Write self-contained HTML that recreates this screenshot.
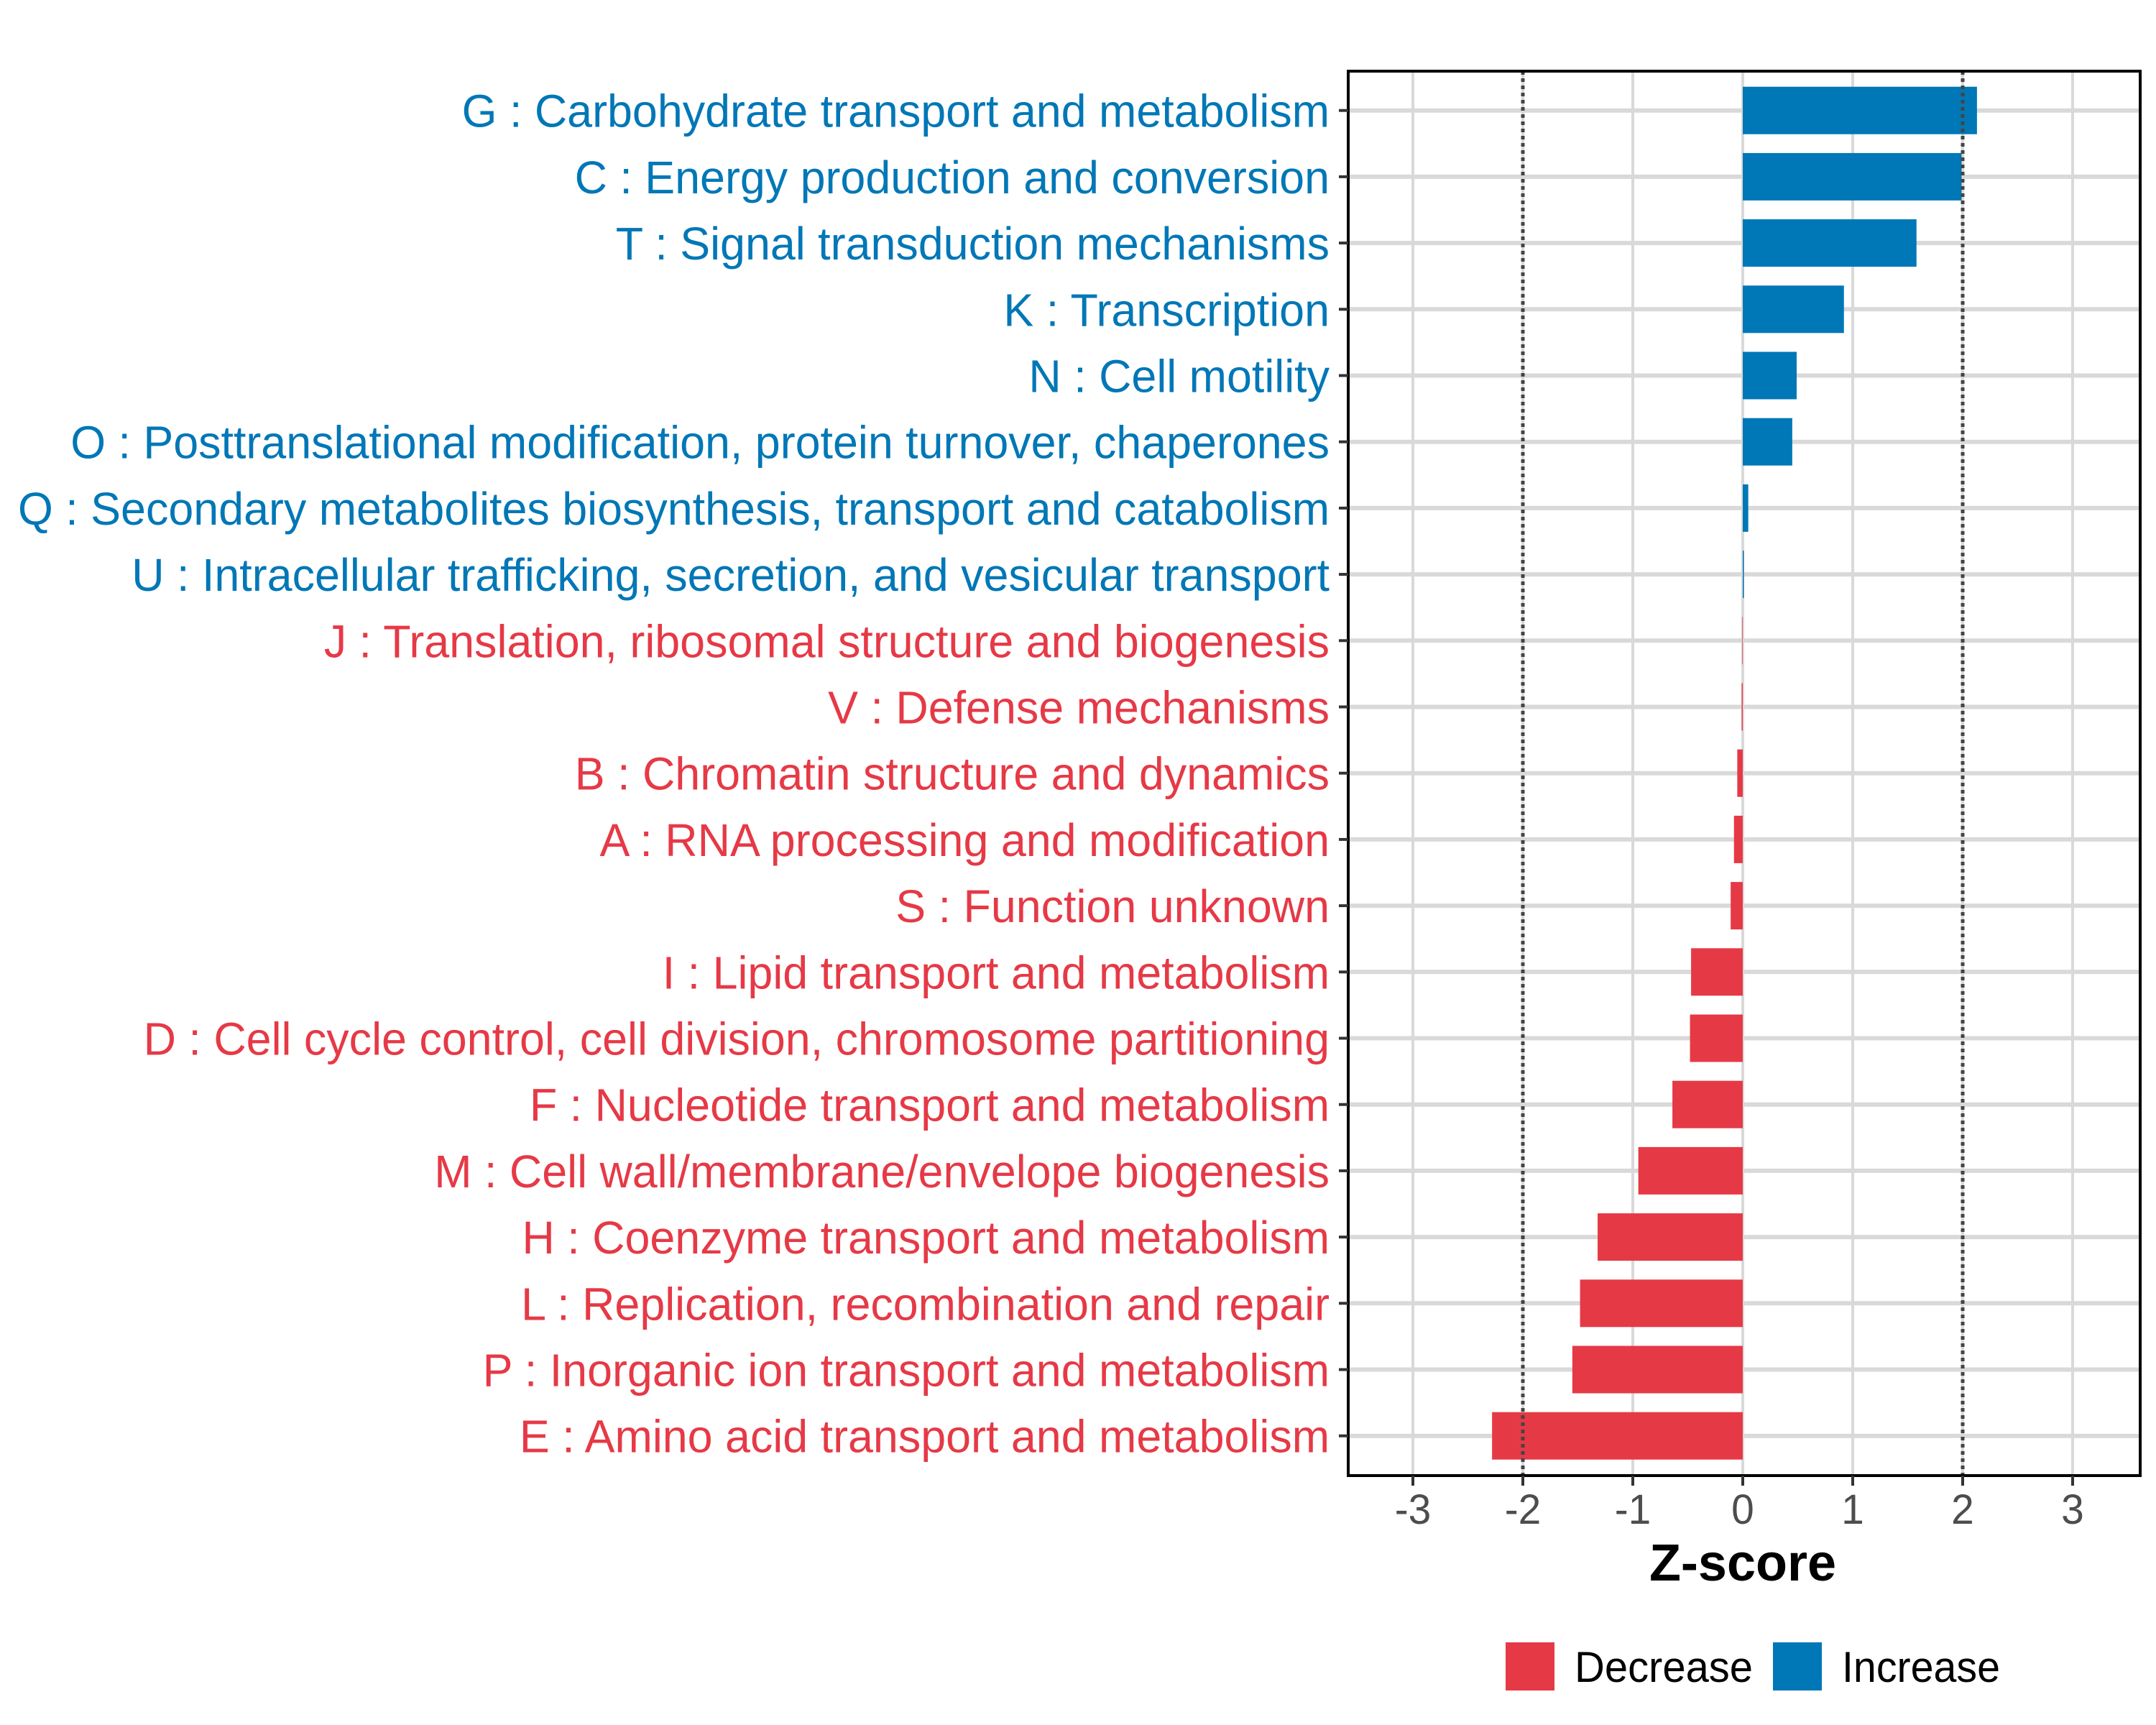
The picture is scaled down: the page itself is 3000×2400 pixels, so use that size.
<!DOCTYPE html>
<html><head><meta charset="utf-8"><style>
html,body{margin:0;padding:0;background:#fff;}
svg{display:block;font-family:"Liberation Sans",Arial,sans-serif;}
</style></head><body>
<svg id="chart" width="3000" height="2400" viewBox="0 0 3000 2400" xmlns="http://www.w3.org/2000/svg">
<rect width="3000" height="2400" fill="#fff"/>
<g id="grid"></g>
<g id="bars"></g>
<g id="refs"></g>
<rect x="1876" y="99" width="1102" height="1954" fill="none" stroke="#000" stroke-width="4"/>
<g id="ylabels"></g>
<g id="xaxis"></g>
<text x="2425" y="2199" text-anchor="middle" font-size="72" font-weight="bold">Z-score</text>
<g>
<rect x="2095" y="2285" width="68" height="67" fill="#E63946"/>
<text id="lgd1" x="2191" y="2340" font-size="60">Decrease</text>
<rect x="2467" y="2285" width="68" height="67" fill="#0077B6"/>
<text id="lgd2" x="2563" y="2340" font-size="60">Increase</text>
</g>
</svg>
<script>
const categories = [
"G : Carbohydrate transport and metabolism",
"C : Energy production and conversion",
"T : Signal transduction mechanisms",
"K : Transcription",
"N : Cell motility",
"O : Posttranslational modification, protein turnover, chaperones",
"Q : Secondary metabolites biosynthesis, transport and catabolism",
"U : Intracellular trafficking, secretion, and vesicular transport",
"J : Translation, ribosomal structure and biogenesis",
"V : Defense mechanisms",
"B : Chromatin structure and dynamics",
"A : RNA processing and modification",
"S : Function unknown",
"I : Lipid transport and metabolism",
"D : Cell cycle control, cell division, chromosome partitioning",
"F : Nucleotide transport and metabolism",
"M : Cell wall/membrane/envelope biogenesis",
"H : Coenzyme transport and metabolism",
"L : Replication, recombination and repair",
"P : Inorganic ion transport and metabolism",
"E : Amino acid transport and metabolism"];
const zscores = [2.13,1.99,1.58,0.92,0.49,0.45,0.05,0.01,-0.005,-0.01,-0.05,-0.08,-0.11,-0.47,-0.48,-0.64,-0.95,-1.32,-1.48,-1.55,-2.28];
const xTicks = [-3,-2,-1,0,1,2,3];
const xTickLabels = ["-3","-2","-1","0","1","2","3"];
const refLines = [-2,2];

const NS="http://www.w3.org/2000/svg";
const x0=2425, unit=153, y0=153.7, step=92.2, barH=66;
const xs=v=>x0+v*unit;
const ys=i=>y0+i*step;
function mk(tag,attrs,parent){const e=document.createElementNS(NS,tag);for(const k in attrs)e.setAttribute(k,attrs[k]);parent.appendChild(e);return e;}
const grid=document.getElementById('grid'),bars=document.getElementById('bars'),refs=document.getElementById('refs'),yl=document.getElementById('ylabels'),xa=document.getElementById('xaxis');
xTicks.forEach((t,i)=>{
  const l=mk('line',{x1:xs(t),x2:xs(t),y1:99,y2:2053,stroke:'#d9d9d9','stroke-width':4},grid);
  
  
  const tk=mk('line',{x1:xs(t),x2:xs(t),y1:2053,y2:2067,stroke:'#333','stroke-width':4},xa);
  
  
  const tx=mk('text',{x:xs(t),y:2120,'text-anchor':'middle','font-size':58,fill:'#4d4d4d'},xa);
  tx.textContent=xTickLabels[i];
  
  
});
categories.forEach((c,i)=>{
  const l=mk('line',{x1:1876,x2:2978,y1:ys(i),y2:ys(i),stroke:'#d9d9d9','stroke-width':6},grid);
  
  
});
zscores.forEach((v,i)=>{
  const col=v>=0?'#0077B6':'#E63946';
  const r=mk('rect',{x:Math.min(xs(0),xs(v)),y:ys(i)-barH/2,width:Math.max(Math.abs(xs(v)-xs(0)),0.5),height:barH,fill:col},bars);
  
  
  const tk=mk('line',{x1:1863,x2:1876,y1:ys(i),y2:ys(i),stroke:'#333','stroke-width':4},yl);
  
  
  const t=mk('text',{x:1850,y:ys(i)+23,'text-anchor':'end','font-size':64,fill:col},yl);
  t.textContent=categories[i];
  
  
});
refLines.forEach(v=>{
  const l=mk('line',{x1:xs(v),x2:xs(v),y1:99,y2:2053,stroke:'#444','stroke-width':5,'stroke-dasharray':'5 5'},refs);
  
  
});
const labels=[...yl.querySelectorAll('text')];
const qi=6; const qNat=labels[qi].getComputedTextLength();
const f=qNat>0?1825/qNat:1;
labels.forEach(t=>{const w=t.getComputedTextLength();t.setAttribute('textLength',w*f);t.setAttribute('lengthAdjust','spacingAndGlyphs');});
[...xa.querySelectorAll('text')].forEach(t=>{const w=t.getComputedTextLength();t.setAttribute('textLength',w*f);t.setAttribute('lengthAdjust','spacingAndGlyphs');});
const l1=document.getElementById('lgd1');l1.setAttribute('textLength',248);l1.setAttribute('lengthAdjust','spacingAndGlyphs');
const l2=document.getElementById('lgd2');l2.setAttribute('textLength',220);l2.setAttribute('lengthAdjust','spacingAndGlyphs');
</script>
</body></html>
